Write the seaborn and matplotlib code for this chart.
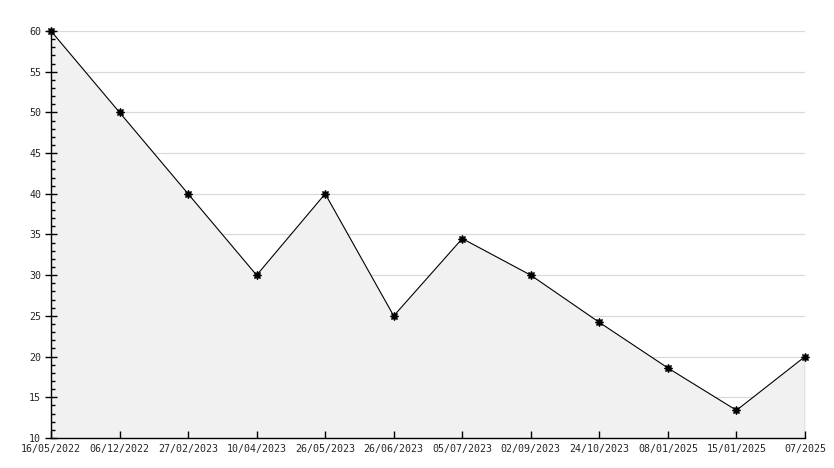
import numpy as np
import pandas as pd
import seaborn as sns
import matplotlib.pyplot as plt
from matplotlib.ticker import MultipleLocator

# Data
dates = ['16/05/2022', '06/12/2022', '27/02/2023', '10/04/2023', '26/05/2023',
         '26/06/2023', '05/07/2023', '02/09/2023', '24/10/2023', '08/01/2025',
         '15/01/2025', '07/2025']
values = [60, 50, 40, 30, 40, 25, 34.5, 30, 24.2, 18.6, 13.4, 20]
grid_levels = [15, 20, 25, 30, 35, 40, 45, 50, 55, 60]

df = pd.DataFrame({'pos': np.arange(len(dates)), 'value': values})

sns.set_style('white', {'xtick.bottom': True, 'ytick.left': True})
plt.rcParams['font.family'] = ['DejaVu Sans Mono', 'DejaVu Sans']

fig = plt.figure(figsize=(8.34, 4.68), dpi=100)
ax = fig.add_axes([51 / 834, 30 / 468, (805 - 51) / 834, (438 - 31) / 468])

# horizontal grid sits under the shaded area
for lvl in grid_levels:
    ax.axhline(lvl, color='#d9d9d9', linewidth=0.9, zorder=0)

# Shaded area under the line
ax.fill_between(df['pos'], df['value'], 10, color='#f1f1f1', linewidth=0, zorder=1)
ax.plot([df['pos'].iloc[-1]] * 2, [10, df['value'].iloc[-1]], color='black', lw=0.8, zorder=2)

sns.lineplot(data=df, x='pos', y='value', ax=ax, color='black', linewidth=0.8,
             marker=(8, 1, 0), markersize=6, markeredgecolor='black',
             markeredgewidth=0.8, zorder=3, clip_on=False)

ax.set_xlim(0, len(dates) - 1)
ax.set_ylim(10, 60)
ax.set_xticks(df['pos'])
ax.set_xticklabels(dates)
ax.yaxis.set_major_locator(MultipleLocator(5))
ax.yaxis.set_minor_locator(MultipleLocator(1))
ax.set_axisbelow(False)

for side in ['top', 'right']:
    ax.spines[side].set_visible(False)
for side in ['left', 'bottom']:
    ax.spines[side].set_color('black')
    ax.spines[side].set_linewidth(1.0)
    ax.spines[side].set_zorder(4)

ax.tick_params(axis='x', bottom=True, direction='in', length=5, width=1,
               color='black', labelsize=7.2, pad=4)
ax.tick_params(axis='y', which='major', left=True, direction='inout', length=8, width=1,
               color='black', labelsize=7.2, pad=3)
ax.tick_params(axis='y', which='minor', left=True, direction='in', length=3, width=1,
               color='black')

ax.set_xlabel('')
ax.set_ylabel('')

fig.savefig('out.png', dpi=100)
